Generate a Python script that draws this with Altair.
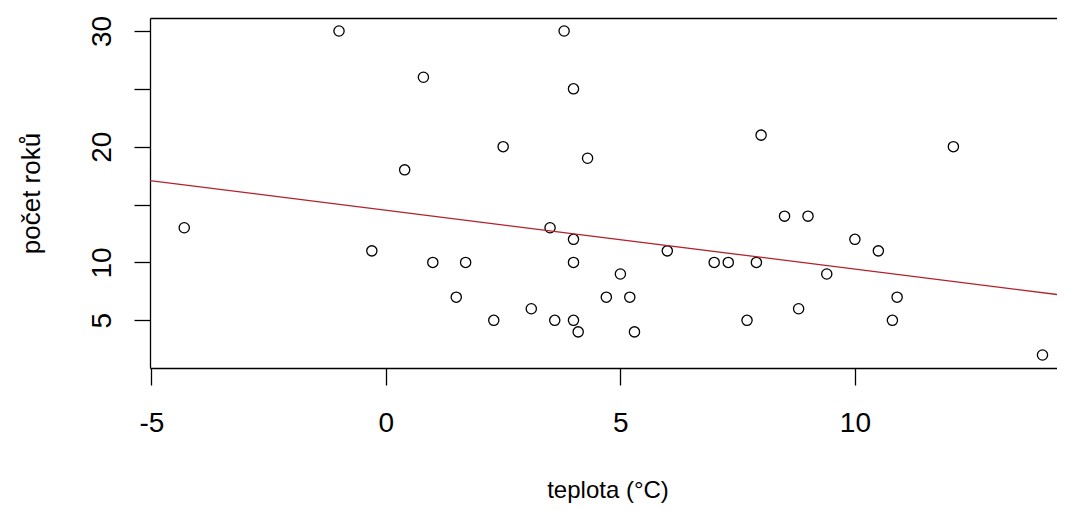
import altair as alt
import pandas as pd

# --- data ---
teplota = [-1.0, 3.8, 0.8, 4.0, 2.5, 4.3, 0.4, 8.0, 12.1, -4.3,
           -0.3, 1.0, 1.7, 1.5, 2.3, 3.1, 3.5, 3.6, 4.0, 4.0,
           4.0, 4.1, 4.7, 5.0, 5.2, 5.3, 6.0, 7.0, 7.3, 7.7,
           7.9, 8.5, 9.0, 8.8, 9.4, 10.0, 10.5, 10.9, 10.8, 14.0]
pocet_roku = [30, 30, 26, 25, 20, 19, 18, 21, 20, 13,
              11, 10, 10, 7, 5, 6, 13, 5, 12, 10,
              5, 4, 7, 9, 7, 4, 11, 10, 10, 5,
              10, 14, 14, 6, 9, 12, 11, 7, 5, 2]
x_ticks = [-5, 0, 5, 10]
y_ticks = [5, 10, 15, 20, 25, 30]
x_title = "teplota (°C)"
y_title = "počet roků"

df = pd.DataFrame({"teplota": teplota, "roky": pocet_roku})

FONT = "Liberation Sans"
X_DOM = [-5.03, 14.48]
Y_DOM = [0.88, 31.12]
INK = "#000000"

x_scale = alt.Scale(domain=X_DOM, nice=False, zero=False)
y_scale = alt.Scale(domain=Y_DOM, nice=False, zero=False)

x_axis = alt.Axis(
    values=x_ticks, grid=False, orient="bottom",
    tickSize=17, tickWidth=1.3, tickColor=INK,
    domainColor=INK, domainWidth=1.3,
    labelFont=FONT, labelFontSize=28, labelColor=INK, labelPadding=24,
    labelFlush=False, labelOverlap=False,
    labelExpr="datum.value < 0 ? '-' + abs(datum.value) : '' + datum.value",
    title=x_title, titleFont=FONT, titleFontSize=24, titleFontWeight="normal",
    titleColor=INK, titlePadding=41,
)
y_axis = alt.Axis(
    values=y_ticks, grid=False, orient="left",
    tickSize=16, tickWidth=1.3, tickColor=INK,
    domainColor=INK, domainWidth=1.3,
    labelFont=FONT, labelFontSize=28, labelColor=INK, labelPadding=24,
    labelAngle=270, labelAlign="center", labelBaseline="alphabetic",
    labelFlush=False, labelOverlap=False,
    labelExpr="datum.value == 15 || datum.value == 25 ? '' : datum.label",
    title=y_title, titleFont=FONT, titleFontSize=26, titleFontWeight="normal",
    titleColor=INK, titlePadding=44,
)
top_axis = alt.Axis(
    orient="top", labels=False, ticks=False, title=None, grid=False,
    domain=True, domainColor=INK, domainWidth=1.3,
)

points = alt.Chart(df).mark_point(
    shape="circle", filled=False, size=105, strokeWidth=1.3,
    color=INK, opacity=1,
).encode(
    x=alt.X("teplota:Q", scale=x_scale, axis=x_axis),
    y=alt.Y("roky:Q", scale=y_scale, axis=y_axis),
)

line = alt.Chart(df).transform_regression(
    "teplota", "roky", method="linear", extent=X_DOM
).mark_line(color="#b3202a", strokeWidth=1.3, clip=True).encode(
    x=alt.X("teplota:Q", scale=x_scale, axis=top_axis),
    y=alt.Y("roky:Q", scale=y_scale, axis=y_axis),
)

chart = alt.layer(points, line).resolve_axis(x="independent").properties(
    width=915, height=350,
    autosize=alt.AutoSizeParams(type="none"),
    padding={"left": 142, "top": 10, "right": -8, "bottom": 135},
    background="white",
).configure_view(stroke=None)

chart.save("out.html", embed_options={"renderer": "svg", "actions": False})
